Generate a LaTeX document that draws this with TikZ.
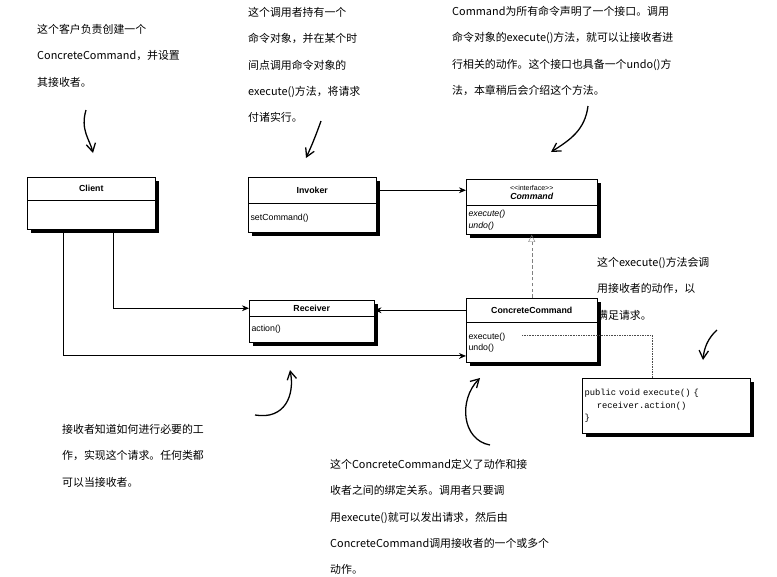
\documentclass[tikz,border=0pt]{standalone}
\usepackage{fontspec}
\newfontfamily\cjk{Noto Sans CJK SC}
\newfontfamily\umlfont{Liberation Sans}
\newfontfamily\codefont{Liberation Mono}
\usetikzlibrary{arrows.meta}
\usetikzlibrary{positioning}
\usetikzlibrary{calc}

\tikzset{
  boxshadow/.style={preaction={draw=none, fill=black, transform canvas={shift={(0.1cm,-0.1cm)}}}},
  classhead/.style={draw=black, fill=white, anchor=north west, inner sep=2pt, align=center,
    font=\umlfont\fontsize{7.5}{8.5}\selectfont\bfseries, boxshadow},
  classbody/.style={draw=black, fill=white, inner sep=2pt, align=left,
    font=\umlfont\fontsize{7.5}{9.5}\selectfont, boxshadow},
  note/.style={anchor=north west, align=left, inner sep=0pt,
    font=\cjk\fontsize{9.3}{22.5}\selectfont},
  assoc/.style={-{Stealth[length=6pt,width=5pt]}, thick},
  handarrow/.style={-{Straight Barb[length=7pt,width=8pt]}, line width=1.1pt}
}

\begin{document}
\begin{tikzpicture}[x=0.03cm, y=-0.03cm]
\useasboundingbox (0,0) rectangle (777,576);

% class boxes
\node[classhead, minimum width=3.84cm, minimum height=0.69cm] (client) at (27,177) {Client};
\node[classbody, minimum width=3.84cm, minimum height=0.87cm, below=0pt of client] (client body) {};

\node[classhead, minimum width=3.84cm, minimum height=0.78cm] (invoker) at (248,177) {Invoker};
\node[classbody, text width=3.7cm, minimum height=0.87cm, below=0pt of invoker] (invoker body) {setCommand()};

\node[classhead, minimum width=3.93cm, minimum height=0.78cm] (command) at (466,179)
  {{\fontsize{6}{7}\selectfont\mdseries <<interface>>}\\[-1pt]\itshape Command};
\node[classbody, text width=3.79cm, minimum height=0.87cm, below=0pt of command,
  font=\umlfont\fontsize{7.5}{9.5}\selectfont\itshape] (command body) {execute()\\undo()};

\node[classhead, minimum width=3.75cm, minimum height=0.48cm] (receiver) at (249,300) {Receiver};
\node[classbody, text width=3.61cm, minimum height=0.78cm, below=0pt of receiver] (receiver body) {action()};

\node[classhead, minimum width=3.93cm, minimum height=0.72cm] (concrete) at (466,298) {ConcreteCommand};
\node[classbody, text width=3.79cm, minimum height=1.2cm, below=0pt of concrete] (concrete body) {execute()\\undo()};

\node[classbody, anchor=north west, text width=4.9cm, minimum height=1.65cm,
  font=\codefont\fontsize{7.5}{10.5}\selectfont] (code) at (582,378)
  {public void execute() \{\\\hspace*{1.4em}receiver.action()\\\}};

% connectors
\draw[assoc] (invoker.east) -- (invoker.east -| command.west);
\draw[assoc] (concrete.west) -- (concrete.west -| receiver.east);
\draw[assoc] ([xshift=2.58cm]client body.south west) |- (receiver.west);
\draw[assoc] ([xshift=1.08cm]client body.south west) |- ([yshift=0.21cm]concrete body.south west);
\draw[densely dashed, gray, -{Triangle[open, length=6pt, width=6pt]}] (concrete.north) -- (command body.south);
\coordinate (exec end) at (522,335);
\draw[densely dotted, black!70] (exec end) -| (code.north west -| 652,0);

% notes
\node[note] (client note) at (37,24) {这个客户负责创建一个\\ConcreteCommand，并设置\\其接收者。};
\node[note] (invoker note) at (248,7) {这个调用者持有一个\\命令对象，并在某个时\\间点调用命令对象的\\execute()方法，将请求\\付诸实行。};
\node[note] (command note) at (452,6) {Command为所有命令声明了一个接口。调用\\命令对象的execute()方法，就可以让接收者进\\行相关的动作。这个接口也具备一个undo()方\\法，本章稍后会介绍这个方法。};
\node[note] (execute note) at (597,257) {这个execute()方法会调\\用接收者的动作，以\\满足请求。};
\node[note] (receiver note) at (62,424) {接收者知道如何进行必要的工\\作，实现这个请求。任何类都\\可以当接收者。};
\node[note] (concrete note) at (330,459) {这个ConcreteCommand定义了动作和接\\收者之间的绑定关系。调用者只要调\\用execute()就可以发出请求，然后由\\ConcreteCommand调用接收者的一个或多个\\动作。};

% hand-drawn pointers
\coordinate (client tip) at (93,153);
\coordinate (invoker tip) at (306,158);
\coordinate (command tip) at (551,152);
\coordinate (execute tip) at (703,360);
\coordinate (receiver tip) at (290,370);
\coordinate (concrete tip) at (480,378);
\draw[handarrow] (86,110) .. controls (80,130) and (90,140) .. (client tip);
\draw[handarrow] (321,121) .. controls (316,135) and (312,145) .. (invoker tip);
\draw[handarrow] (588,106) .. controls (585,130) and (570,140) .. (command tip);
\draw[handarrow] (717,330) .. controls (708,338) and (704,348) .. (execute tip);
\draw[handarrow] (255,415) .. controls (285,420) and (295,395) .. (receiver tip);
\draw[handarrow] (490,445) .. controls (462,440) and (458,400) .. (concrete tip);
\end{tikzpicture}
\end{document}
